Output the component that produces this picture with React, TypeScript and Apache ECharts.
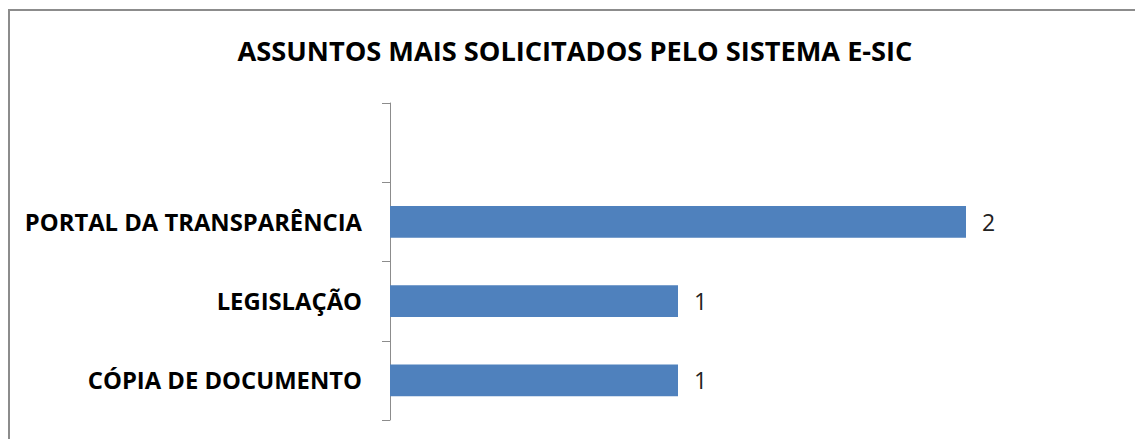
import React, { useEffect, useRef } from "react";
import * as echarts from "echarts";

const titleText = "ASSUNTOS MAIS SOLICITADOS PELO SISTEMA E-SIC";
const categories = ["CÓPIA DE DOCUMENTO", "LEGISLAÇÃO", "PORTAL DA TRANSPARÊNCIA", ""];
const values: (number | null)[] = [1, 1, 2, null];

export default function App() {
  const ref = useRef<HTMLDivElement>(null);
  useEffect(() => {
    document.body.style.margin = "0";
    const chart = echarts.init(ref.current!, null, { renderer: "svg" });
    chart.setOption({
      animation: false,
      backgroundColor: "#ffffff",
      title: {
        text: titleText,
        left: 570,
        textAlign: "center",
        top: 32,
        textStyle: { fontFamily: "Open Sans", fontWeight: "bold", fontSize: 27.2, color: "#000" },
      },
      graphic: [
        {
          type: "rect",
          shape: { x: 9, y: 10, width: 1200, height: 500 },
          style: { fill: "none", stroke: "#8c8c8c", lineWidth: 2 },
          silent: true,
        },
      ],
      grid: { left: 390, right: 25, top: 103, bottom: 19, containLabel: false },
      xAxis: {
        type: "value",
        min: 0,
        max: 2.5,
        show: false,
      },
      yAxis: {
        type: "category",
        data: categories,
        axisLine: { show: true, lineStyle: { color: "#8c8c8c", width: 1 } },
        axisTick: { show: true, length: 8, alignWithLabel: false, lineStyle: { color: "#8c8c8c" } },
        axisLabel: {
          margin: 28,
          fontFamily: "Open Sans",
          fontWeight: "bold",
          fontSize: 23.8,
          color: "#000",
        },
        splitLine: { show: false },
      },
      series: [
        {
          type: "bar",
          data: values,
          barCategoryGap: "60%",
          itemStyle: { color: "#4f81bd" },
          label: {
            show: true,
            position: "right",
            distance: 16,
            fontFamily: "Open Sans",
            fontSize: 23,
            color: "#222",
          },
        },
      ],
    });
    return () => chart.dispose();
  }, []);
  return <div ref={ref} style={{ width: 1135, height: 439 }} />;
}
